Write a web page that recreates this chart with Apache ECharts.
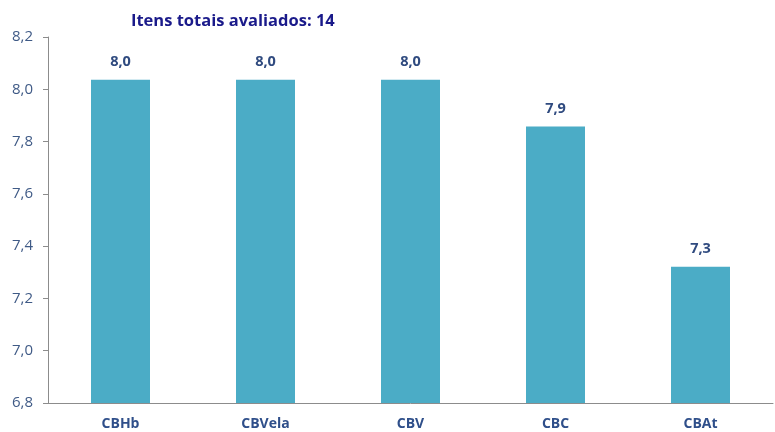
<!DOCTYPE html>
<html>
<head>
<meta charset="utf-8">
<script src="https://cdn.jsdelivr.net/npm/echarts@6/dist/echarts.min.js"></script>
<style>
  html, body { margin: 0; padding: 0; background: #fff; }
  #chart { width: 775px; height: 432px; }
</style>
</head>
<body>
<div id="chart"></div>
<script>
// dados do gráfico
const categories = ["CBHb", "CBVela", "CBV", "CBC", "CBAt"];
const values = [8.036, 8.036, 8.036, 7.858, 7.321];
const titleText = "Itens totais avaliados: 14";

const fmt = (v, d) => v.toFixed(d).replace(".", ",");

const chart = echarts.init(document.getElementById("chart"));
chart.setOption({
  animation: false,
  title: {
    text: titleText,
    left: 126,
    top: 8,
    textStyle: { fontFamily: "Open Sans", fontSize: 16.5, fontWeight: "bold", color: "#1a1a8a" }
  },
  grid: { left: 48, right: 2, top: 37, bottom: 29, containLabel: false },
  xAxis: {
    type: "category",
    data: categories,
    axisLine: { lineStyle: { color: "#8c8c8c" } },
    axisTick: { alignWithLabel: false, length: 5, lineStyle: { color: "#8c8c8c" } },
    axisLabel: { fontFamily: "Open Sans", fontSize: 14, fontWeight: "bold", color: "#2f4f8a", margin: 14 }
  },
  yAxis: {
    type: "value",
    min: 6.8,
    max: 8.2,
    interval: 0.2,
    axisLine: { show: true, lineStyle: { color: "#8c8c8c" } },
    axisTick: { show: true, length: 5, lineStyle: { color: "#8c8c8c" } },
    splitLine: { show: false },
    axisLabel: {
      fontFamily: "Open Sans", fontSize: 15, color: "#3f5a86", margin: 15,
      formatter: (v) => fmt(v, 1)
    }
  },
  series: [{
    type: "bar",
    data: values,
    barWidth: 59,
    itemStyle: { color: "#4bacc6" },
    label: {
      show: true,
      position: "top",
      distance: 10,
      fontFamily: "Open Sans",
      fontSize: 14.5,
      fontWeight: "bold",
      color: "#2f4a7f",
      formatter: (p) => fmt(p.value, 1)
    }
  }]
});
</script>
</body>
</html>
